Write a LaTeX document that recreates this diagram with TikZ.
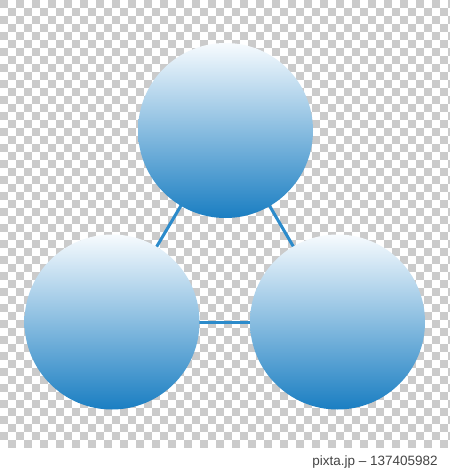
\documentclass[tikz,border=0pt]{standalone}
\usepackage{fontspec}
\setmainfont{Liberation Sans}
\pgfdeclarelayer{background}
\pgfdeclarelayer{checker}
\pgfsetlayers{checker,background,main}
\definecolor{checkgray}{HTML}{CBCBCB}
\definecolor{linkblue}{HTML}{2C8BCB}
\definecolor{topwhite}{HTML}{F7FBFE}
\definecolor{midblue}{HTML}{B2D5EA}
\definecolor{botblue}{HTML}{1A7EC2}
\definecolor{marktext}{HTML}{444444}
\tikzset{
  ball/.style={circle, minimum size=175pt, inner sep=0pt, draw=none,
    top color=topwhite, middle color=midblue, bottom color=botblue},
  link/.style={draw=linkblue, line width=3pt}
}
\begin{document}
\begin{tikzpicture}[x=1pt,y=-1pt]
\useasboundingbox (0,0) rectangle (450,469);
\begin{pgfonlayer}{checker}
\fill[white] (0,0) rectangle (450,469);
\begin{scope}
\clip (0,0) rectangle (450,448);
\foreach \j in {0,...,55}{
  \pgfmathtruncatemacro\off{mod(\j,2)}
  \foreach \i in {0,...,28}{
    \fill[checkgray] ({(2*\i+\off)*8},{\j*8}) rectangle ++(8,8);
  }
}
\end{scope}
\end{pgfonlayer}
\node[ball] (top) at (225.5,130.5) {};
\node[ball] (left) at (112,322) {};
\node[ball] (right) at (337.5,322) {};
\begin{pgfonlayer}{background}
\draw[link] (top.center) -- (left.center);
\draw[link] (top.center) -- (right.center);
\draw[link] (left.center) -- (right.center);
\end{pgfonlayer}
\node[font=\fontsize{13.5}{15}\selectfont, text=marktext] (mark) at (375,462) {pixta.jp – 137405982};
\end{tikzpicture}
\end{document}
